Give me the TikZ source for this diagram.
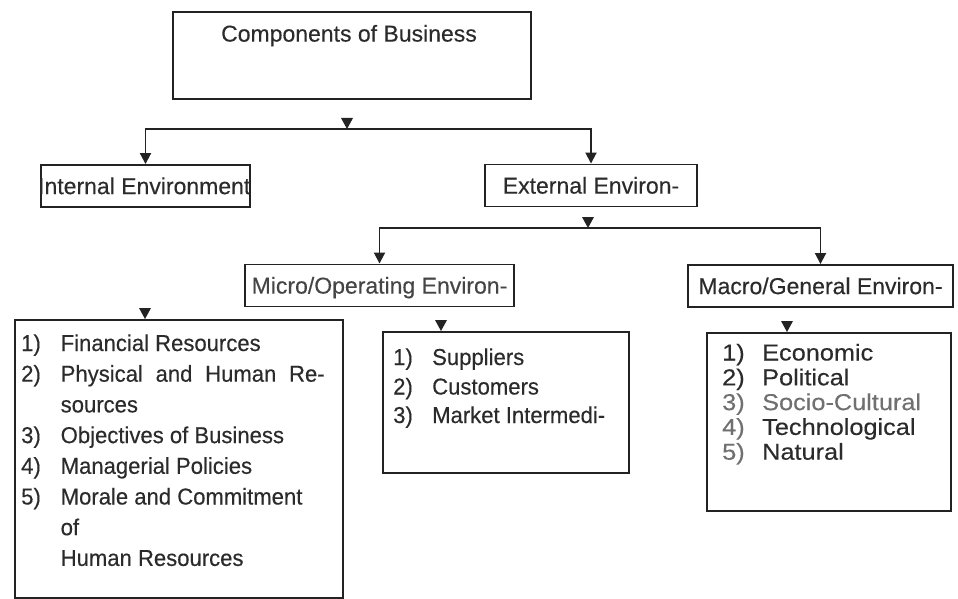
\documentclass[tikz,border=0pt]{standalone}
\usepackage{fontspec}
\setmainfont{Liberation Sans}[UprightFeatures={FakeBold=0.35}]
\newfontfamily\widesans{Liberation Sans}[FakeStretch=1.1, UprightFeatures={FakeBold=0.35}]
\newfontfamily\narrowsans{Liberation Sans}[FakeStretch=0.96, UprightFeatures={FakeBold=0.35}]
\usetikzlibrary{arrows.meta}

\definecolor{ink}{HTML}{2B2B2B}
\definecolor{inksoft}{HTML}{707070}
\definecolor{inkmid}{HTML}{454545}
\definecolor{rule}{HTML}{232323}

\tikzset{
  frame/.style={draw=rule, line width=1.9pt, inner sep=0pt, rectangle},
  head/.style={frame, text=ink, font=\fontsize{23}{26}\selectfont,
    text height=16.2pt, text depth=0pt, minimum height=42pt},
  title/.style={inner sep=0pt, text=ink, font=\fontsize{23}{26}\selectfont,
    text height=16.2pt, text depth=0pt},
  conn/.style={draw=rule, line width=1.9pt, -{Triangle[width=11pt,length=11pt]}},
  notch/.style={fill=rule},
  item/.style={anchor=base west, inner sep=0pt, text=ink, font=\narrowsans\fontsize{23}{26}\selectfont},
  ritem/.style={anchor=base west, inner sep=0pt, text=ink, font=\widesans\fontsize{23}{25}\selectfont},
}

\begin{document}
\begin{tikzpicture}[x=1pt, y=-1pt]
  \useasboundingbox (0,0) rectangle (958,599);

  % --- top level -------------------------------------------------------
  \node[frame, minimum width=358pt, minimum height=87pt, anchor=north west]
    (top) at (172,11) {};
  \node[title] (toptitle) at (349,33.5) {Components of Business};

  % --- second level ----------------------------------------------------
  \node[head, minimum width=205pt] (intenv) at (145.5,186)
    {\hspace*{-2.5pt}Internal Environment};
  \node[head, minimum width=212pt] (extenv) at (591,185.5) {External Environ-};

  \coordinate (bus1) at (347,129);
  \draw[conn] (bus1) -| (intenv.north);
  \draw[conn] (bus1) -| (extenv.north);
  \fill[notch] (bus1) -- ++(-6,-11) -- ++(12,0) -- cycle;

  % --- third level -----------------------------------------------------
  \node[head, minimum width=269pt, text=inkmid] (micro) at (379.5,285.5)
    {Micro/Operating Environ-};
  \node[head, minimum width=265pt] (macro) at (820.5,286) {Macro/General Environ-};

  \coordinate (bus2) at (588,228);
  \draw[conn] (bus2) -| (micro.north);
  \draw[conn] (bus2) -| (macro.north);
  \fill[notch] (bus2) -- ++(-6,-11) -- ++(12,0) -- cycle;

  % --- list boxes ------------------------------------------------------
  \node[frame, anchor=north west, minimum width=328pt, minimum height=278pt]
    (intlist) at (14,319) {};
  \node[frame, anchor=north west, minimum width=246pt, minimum height=141pt]
    (microlist) at (382,331) {};
  \node[frame, anchor=north west, minimum width=244pt, minimum height=178pt]
    (macrolist) at (706,332) {};

  \coordinate (n3) at (145,319);
  \coordinate (n4) at (441,331);
  \coordinate (n5) at (787,332);
  \foreach \c in {n3,n4,n5}
    \fill[notch] (\c) -- ++(-6,-11) -- ++(12,0) -- cycle;

  % internal environment items
  \node[item] (i1n) at (21,351)   {1)};
  \node[item] (i1)  at (60.5,351) {Financial Resources};
  \node[item] (i2n) at (21,381.7) {2)};
  \node[item] (i2)  at (60.5,381.7) {\makebox[264pt][s]{Physical and Human Re-}};
  \node[item] (i2b) at (60.5,412.4) {sources};
  \node[item] (i3n) at (21,443.1) {3)};
  \node[item] (i3)  at (60.5,443.1) {Objectives of Business};
  \node[item] (i4n) at (21,473.8) {4)};
  \node[item] (i4)  at (60.5,473.8) {Managerial Policies};
  \node[item] (i5n) at (21,504.5) {5)};
  \node[item] (i5)  at (60.5,504.5) {Morale and Commitment};
  \node[item] (i5b) at (60.5,535.2) {of};
  \node[item] (i5c) at (60.5,565.9) {Human Resources};

  % micro environment items
  \node[item] (m1n) at (393,365)   {1)};
  \node[item] (m1)  at (432,365)   {Suppliers};
  \node[item] (m2n) at (393,394.5) {2)};
  \node[item] (m2)  at (432,394.5) {Customers};
  \node[item] (m3n) at (393,423)   {3)};
  \node[item] (m3)  at (432,423)   {Market Intermedi-};

  % macro environment items
  \node[ritem] (g1n) at (722,360.5) {1)};
  \node[ritem] (g1)  at (762,360.5) {Economic};
  \node[ritem] (g2n) at (722,385.3) {2)};
  \node[ritem] (g2)  at (762,385.3) {Political};
  \node[ritem, text=inksoft] (g3n) at (722,410.1) {3)};
  \node[ritem, text=inksoft] (g3)  at (762,410.1) {Socio-Cultural};
  \node[ritem, text=inksoft] (g4n) at (722,434.9) {4)};
  \node[ritem] (g4)  at (762,434.9) {Technological};
  \node[ritem, text=inksoft] (g5n) at (722,459.7) {5)};
  \node[ritem] (g5)  at (762,459.7) {Natural};
\end{tikzpicture}
\end{document}
